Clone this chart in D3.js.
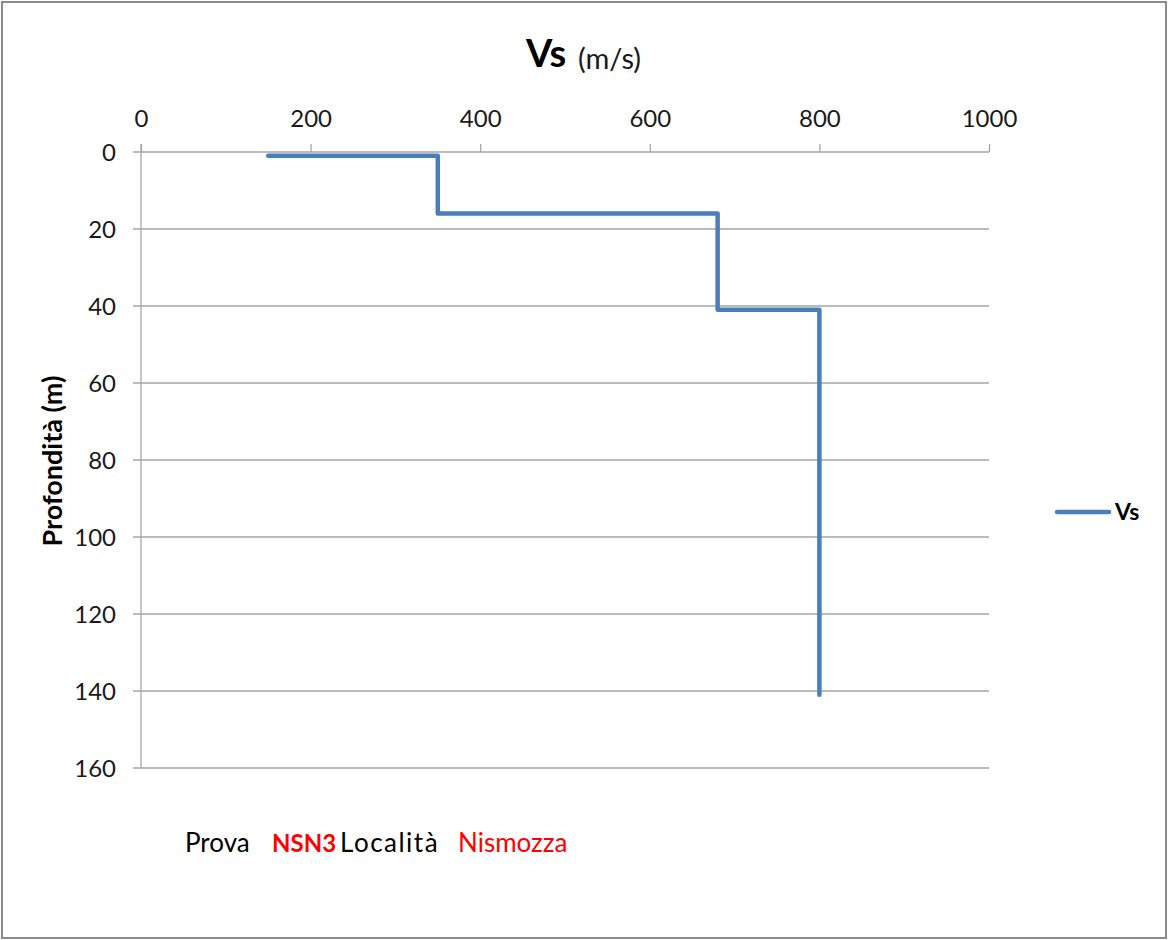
<!DOCTYPE html>
<html><head><meta charset="utf-8">
<script src="https://cdn.jsdelivr.net/npm/d3@7"></script>
<style>
html,body{margin:0;padding:0;background:#fff;}
svg{display:block;}
text{font-family:Lato,"Open Sans",sans-serif;}
</style></head>
<body>
<svg id="chart" width="1168" height="940"></svg>
<script>
// Data
const seriesName = "Vs";
const vsValues = [150, 350, 350, 680, 680, 800, 800];
const depthValues = [1, 1, 16, 16, 41, 41, 141];
const xTicks = [0, 200, 400, 600, 800, 1000];
const yTicks = [0, 20, 40, 60, 80, 100, 120, 140, 160];
const titleMain = "Vs";
const titleUnit = "(m/s)";
const yTitle = "Profondità (m)";
const footer = [
  {t: "Prova", c: "#000", w: "normal"},
  {t: "NSN3", c: "#ff0000", w: "bold"},
  {t: "Località", c: "#000", w: "normal"},
  {t: "Nismozza", c: "#ff0000", w: "normal"}
];
const footerX = [185, 272, 340, 458];

const svg = d3.select("#chart");
const W = 1168, H = 940;
const m = {left: 141, right: 989, top: 152, bottom: 768};
const FF = "Lato,'Open Sans',sans-serif";

svg.append("rect").attr("x", 2).attr("y", 2).attr("width", W - 4).attr("height", H - 4)
  .attr("fill", "#fff").attr("stroke", "#8c8c8c").attr("stroke-width", 2);

const x = d3.scaleLinear().domain([0, 1000]).range([m.left, m.right]);
const y = d3.scaleLinear().domain([0, 160]).range([m.top, m.bottom]);

const grid = "#a6a6a6";
// horizontal gridlines
svg.append("g").selectAll("line").data(yTicks).join("line")
  .attr("x1", m.left - 8).attr("x2", m.right)
  .attr("y1", d => y(d)).attr("y2", d => y(d))
  .attr("stroke", grid).attr("stroke-width", 1.3);

// top axis
const xAxis = d3.axisTop(x).tickValues(xTicks).tickSize(8).tickSizeOuter(0).tickFormat(d3.format("d"));
const gx = svg.append("g").attr("transform", `translate(0,${m.top})`).call(xAxis);
gx.select(".domain").remove();
gx.selectAll(".tick line").attr("stroke", grid).attr("stroke-width", 1.3);
gx.selectAll(".tick text").attr("fill", "#1a1a1a").attr("font-size", 24).attr("y", -25)
  .style("font-family", FF);

// left axis
const yAxis = d3.axisLeft(y).tickValues(yTicks).tickSize(0).tickFormat(d3.format("d"));
const gy = svg.append("g").attr("transform", `translate(${m.left},0)`).call(yAxis);
gy.select(".domain").remove();
gy.selectAll(".tick text").attr("fill", "#1a1a1a").attr("font-size", 24).attr("x", -25)
  .attr("dy", "0.36em").style("font-family", FF);
svg.append("line").attr("x1", m.left).attr("x2", m.left).attr("y1", m.top - 8).attr("y2", m.bottom)
  .attr("stroke", grid).attr("stroke-width", 1.3);

// series line
const pts = vsValues.map((v, i) => [v, depthValues[i]]);
const line = d3.line().x(d => x(d[0])).y(d => y(d[1]));
svg.append("path").datum(pts).attr("d", line).attr("fill", "none")
  .attr("stroke", "#4a7ebb").attr("stroke-width", 4.5)
  .attr("stroke-linejoin", "round").attr("stroke-linecap", "round");

// title
svg.append("text").attr("x", 526).attr("y", 67).attr("font-size", 38).attr("font-weight", "bold").text(titleMain);
svg.append("text").attr("x", 578).attr("y", 69).attr("font-size", 29).attr("fill", "#1a1a1a").text(titleUnit);

// y axis title
svg.append("text").attr("transform", "translate(62,461) rotate(-90)")
  .attr("text-anchor", "middle").attr("font-size", 27).attr("font-weight", "bold").text(yTitle);

// legend
svg.append("line").attr("x1", 1057).attr("x2", 1109).attr("y1", 512).attr("y2", 512)
  .attr("stroke", "#4a7ebb").attr("stroke-width", 4.5).attr("stroke-linecap", "round");
svg.append("text").attr("x", 1115).attr("y", 512).attr("dy", "0.36em")
  .attr("font-size", 23).attr("font-weight", "bold").text(seriesName);

// footer
svg.append("g").selectAll("text").data(footer).join("text")
  .attr("x", (d, i) => footerX[i]).attr("y", 852)
  .attr("font-size", d => d.w === "bold" ? 24 : 26)
  .attr("letter-spacing", d => d.t === "Località" ? 1.5 : 0)
  .attr("fill", d => d.c).attr("font-weight", d => d.w).text(d => d.t);
</script>
</body></html>
